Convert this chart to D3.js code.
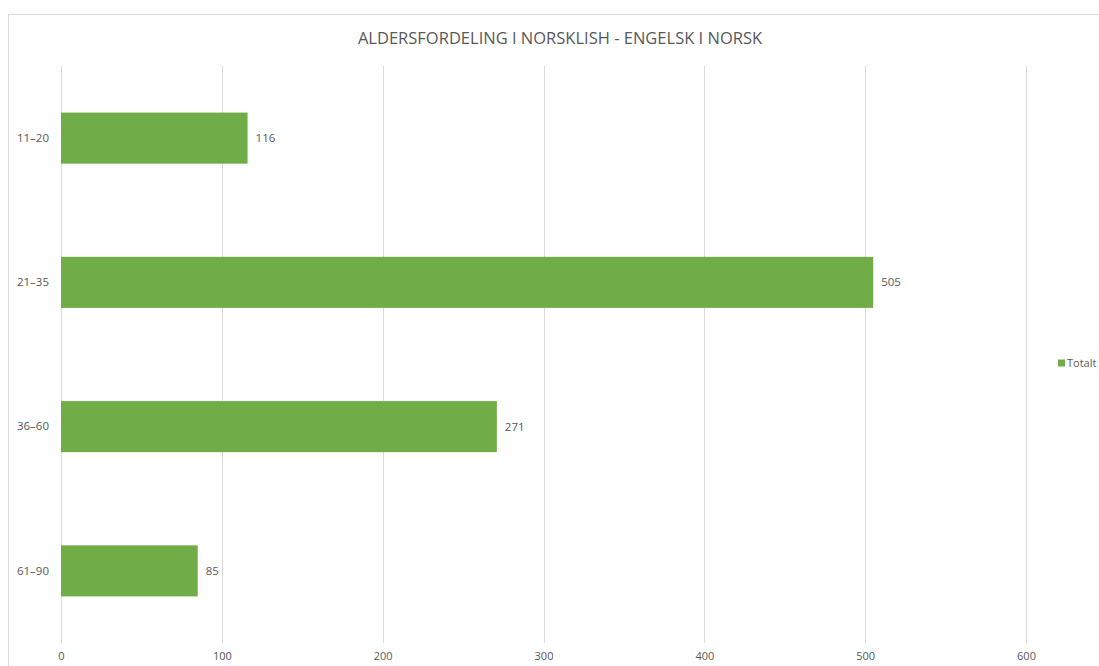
<!DOCTYPE html>
<html>
<head>
<meta charset="utf-8">
<script src="https://cdn.jsdelivr.net/npm/d3@7"></script>
<style>
  html, body { margin: 0; padding: 0; background: #fff; }
  svg { display: block; font-family: "Open Sans", "Liberation Sans", sans-serif; }
</style>
</head>
<body>
<svg id="chart" width="1099" height="666"></svg>
<script>
const categories = ["11–20", "21–35", "36–60", "61–90"];
const values = [116, 505, 271, 85];
const xTicks = [0, 100, 200, 300, 400, 500, 600];
const title = "ALDERSFORDELING I NORSKLISH - ENGELSK I NORSK";
const seriesName = "Totalt";

const svg = d3.select("#chart");
const W = 1099, H = 666;
const plot = { left: 61, right: 1026, top: 66, bottom: 643 };
const barColor = "#70AD47";
const textColor = "#595959";
const gridColor = "#d9d9d9";
const labelFont = "'Open Sans', 'Liberation Sans', sans-serif";

// Chart frame
svg.append("rect")
  .attr("x", 8.5).attr("y", 14.5)
  .attr("width", W).attr("height", H)
  .attr("fill", "#fff").attr("stroke", gridColor);

const x = d3.scaleLinear().domain([0, 600]).range([plot.left, plot.right]);
const y = d3.scaleBand().domain(categories).range([plot.top, plot.bottom])
  .paddingInner(0.646).paddingOuter(0.323);

// Title
svg.append("text")
  .attr("x", 560).attr("y", 44)
  .attr("text-anchor", "middle")
  .attr("fill", textColor)
  .style("font-size", "16.5px")
  .text(title);

// Vertical gridlines
svg.append("g").selectAll("line").data(xTicks).join("line")
  .attr("x1", d => Math.round(x(d)) + 0.5).attr("x2", d => Math.round(x(d)) + 0.5)
  .attr("y1", plot.top).attr("y2", plot.bottom)
  .attr("stroke", gridColor).attr("stroke-width", 1);

// X axis tick labels
const xAxis = d3.axisBottom(x).tickValues(xTicks).tickSize(0).tickPadding(9);
svg.append("g")
  .attr("transform", `translate(0,${plot.bottom})`)
  .call(xAxis)
  .call(g => g.select(".domain").remove())
  .call(g => g.selectAll("text").attr("fill", textColor)
    .style("font-size", "11px").style("font-family", labelFont));

// Y axis category labels
const yAxis = d3.axisLeft(y).tickSize(0).tickPadding(12);
svg.append("g")
  .attr("transform", `translate(${plot.left},0)`)
  .call(yAxis)
  .call(g => g.select(".domain").remove())
  .call(g => g.selectAll("text").attr("fill", textColor)
    .style("font-size", "11.5px").style("font-family", labelFont));

// Bars
svg.append("g").selectAll("rect").data(values).join("rect")
  .attr("x", x(0))
  .attr("y", (d, i) => y(categories[i]))
  .attr("width", d => x(d) - x(0))
  .attr("height", y.bandwidth())
  .attr("fill", barColor);

// Value labels
svg.append("g").selectAll("text").data(values).join("text")
  .attr("x", d => x(d) + 8)
  .attr("y", (d, i) => y(categories[i]) + y.bandwidth() / 2)
  .attr("dy", "0.35em")
  .attr("fill", textColor)
  .style("font-size", "11.5px")
  .text(d => d);

// Legend
const legend = svg.append("g").attr("transform", "translate(1058,363)");
legend.append("rect").attr("x", 0).attr("y", -3.5).attr("width", 7).attr("height", 7).attr("fill", barColor);
legend.append("text").attr("x", 9).attr("y", 0).attr("dy", "0.35em")
  .attr("fill", textColor).style("font-size", "11px").text(seriesName);
</script>
</body>
</html>
